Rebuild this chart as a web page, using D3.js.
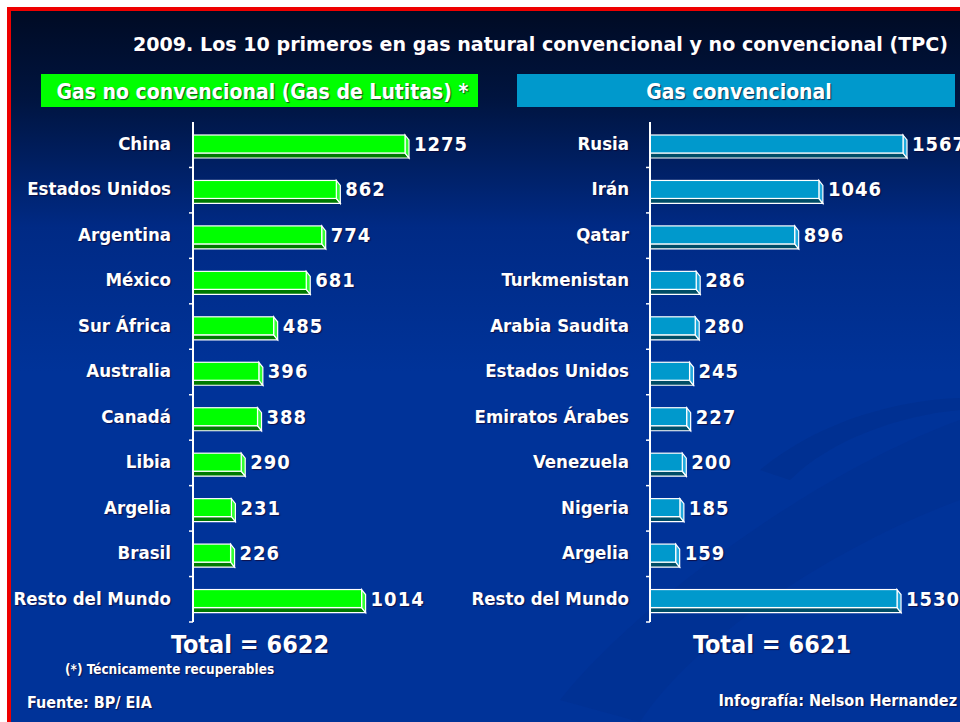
<!DOCTYPE html>
<html>
<head>
<meta charset="utf-8">
<script src="https://cdn.jsdelivr.net/npm/d3@7"></script>
<style>
  body { margin: 0; background: #fff; }
  svg text { font-family: "DejaVu Sans Condensed", "DejaVu Sans", sans-serif; font-weight: bold; fill: #fff;
    text-shadow: 1px 1px 1px rgba(20,0,40,0.7); }
</style>
</head>
<body>
<div id="chart"></div>
<script>
// data (TPC)
const shaleCountries = ["China", "Estados Unidos", "Argentina", "México", "Sur África", "Australia",
	"Canadá", "Libia", "Argelia", "Brasil", "Resto del Mundo"];
const shaleValues = [1275, 862, 774, 681, 485, 396, 388, 290, 231, 226, 1014];
const convCountries = ["Rusia", "Irán", "Qatar", "Turkmenistan", "Arabia Saudita", "Estados Unidos",
	"Emiratos Árabes", "Venezuela", "Nigeria", "Argelia", "Resto del Mundo"];
const convValues = [1567, 1046, 896, 286, 280, 245, 227, 200, 185, 159, 1530];
const totals = [6622, 6621];

const title = "2009. Los 10 primeros en gas natural convencional y no convencional (TPC)";
const headers = ["Gas no convencional (Gas de Lutitas) *", "Gas convencional"];

const W = 960, H = 722;
const svg = d3.select("#chart").append("svg")
	.attr("width", W).attr("height", H);

// background
const defs = svg.append("defs");
const grad = defs.append("linearGradient").attr("id", "bg")
	.attr("x1", 0).attr("y1", 0).attr("x2", 0).attr("y2", 1);
grad.append("stop").attr("offset", "0%").attr("stop-color", "#000b24");
grad.append("stop").attr("offset", "12%").attr("stop-color", "#00143f");
grad.append("stop").attr("offset", "30%").attr("stop-color", "#002a85");
grad.append("stop").attr("offset", "50%").attr("stop-color", "#003399");
grad.append("stop").attr("offset", "100%").attr("stop-color", "#003399");

svg.append("rect").attr("x", 7).attr("y", 7).attr("width", W).attr("height", H)
	.attr("fill", "#ee0000");
svg.append("rect").attr("x", 11).attr("y", 11).attr("width", W).attr("height", H)
	.attr("fill", "url(#bg)");

// faint swooshes in the lower right
svg.append("path")
	.attr("d", "M560,700 C640,600 820,470 960,420 L960,500 C850,540 700,630 640,722 Z")
	.attr("fill", "#002e8e").attr("opacity", 0.45);
svg.append("path")
	.attr("d", "M760,470 C820,420 900,400 960,398 L960,410 C900,415 830,440 790,480 Z")
	.attr("fill", "#002c88").attr("opacity", 0.4);

// title
svg.append("text")
	.attr("x", 133).attr("y", 51)
	.attr("font-size", 20)
	.attr("textLength", 815).attr("lengthAdjust", "spacingAndGlyphs")
	.text(title);

const panels = [
	{x: 41, w: 437, fill: "#00ff00", text: headers[0], axisX: 193, labelX: 171, maxW: 212 * 1600 / 1275,
		countries: shaleCountries, values: shaleValues, face: "#00ff00", bottom: "#007a00", side: "#33ff33", total: totals[0], totalX: 250},
	{x: 517, w: 438, fill: "#0099cc", text: headers[1], axisX: 650, labelX: 629, maxW: 253 * 1600 / 1567,
		countries: convCountries, values: convValues, face: "#0099cc", bottom: "#004d66", side: "#22aadd", total: totals[1], totalX: 772}
];

panels.forEach(p => {
	// header box
	svg.append("rect").attr("x", p.x).attr("y", 74).attr("width", p.w).attr("height", 33)
		.attr("fill", p.fill);
	svg.append("text")
		.attr("x", p.x + p.w / 2 + 3).attr("y", 99)
		.attr("text-anchor", "middle")
		.attr("font-size", 21)
		.text(p.text);

	const x = d3.scaleLinear().domain([0, 1600]).range([p.axisX, p.axisX + p.maxW]);
	const y = d3.scaleBand().domain(p.countries).range([122, 622]);
	const data = p.countries.map((c, i) => ({name: c, value: p.values[i]}));

	const faceH = 18, depth = 5, dx = 4;
	const g = svg.append("g");

	// bottom face
	g.selectAll(".bot").data(data).enter().append("path")
		.attr("d", d => {
			const y0 = y(d.name) + 13 + faceH, x0 = x(0), x1 = x(d.value);
			return `M${x0},${y0} L${x1},${y0} L${x1 + dx},${y0 + depth} L${x0},${y0 + depth} Z`;
		})
		.attr("fill", p.bottom).attr("stroke", "#fff").attr("stroke-width", 1.2);
	// right side face
	g.selectAll(".side").data(data).enter().append("path")
		.attr("d", d => {
			const y0 = y(d.name) + 13, x1 = x(d.value);
			return `M${x1},${y0} L${x1 + dx},${y0 + depth} L${x1 + dx},${y0 + faceH + depth} L${x1},${y0 + faceH} Z`;
		})
		.attr("fill", p.side).attr("stroke", "#fff").attr("stroke-width", 1.2);
	// front face
	g.selectAll(".face").data(data).enter().append("rect")
		.attr("x", x(0))
		.attr("y", d => y(d.name) + 13)
		.attr("width", d => x(d.value) - x(0))
		.attr("height", faceH)
		.attr("fill", p.face).attr("stroke", "#fff").attr("stroke-width", 1.2);

	// value labels
	g.selectAll(".val").data(data).enter().append("text")
		.attr("x", d => x(d.value) + dx + 5)
		.attr("y", d => y(d.name) + 13 + faceH / 2 + 7)
		.attr("font-size", 20)
		.attr("letter-spacing", 1)
		.text(d => d.value);

	// category labels
	g.selectAll(".cat").data(data).enter().append("text")
		.attr("x", p.labelX)
		.attr("y", d => y(d.name) + 13 + faceH / 2 + 6)
		.attr("text-anchor", "end")
		.attr("font-size", 18.5)
		.text(d => d.name);

	// axis with ticks at band edges
	const edges = p.countries.map(c => y(c)).concat([y.range()[1]]);
	g.append("line").attr("x1", x(0)).attr("x2", x(0))
		.attr("y1", y.range()[0]).attr("y2", y.range()[1])
		.attr("stroke", "#fff").attr("stroke-width", 2);
	g.selectAll(".tick").data(edges.slice(1)).enter().append("line")
		.attr("x1", x(0) - 4).attr("x2", x(0))
		.attr("y1", d => d).attr("y2", d => d)
		.attr("stroke", "#fff").attr("stroke-width", 1.5);

	svg.append("text")
		.attr("x", p.totalX).attr("y", 653)
		.attr("text-anchor", "middle")
		.attr("font-size", 25)
		.text("Total = " + p.total);
});

svg.append("text").attr("x", 65).attr("y", 674).attr("font-size", 13.5)
	.text("(*) Técnicamente recuperables");
svg.append("text").attr("x", 27).attr("y", 708).attr("font-size", 16)
	.text("Fuente: BP/ EIA");
svg.append("text").attr("x", 957).attr("y", 706).attr("font-size", 16)
	.attr("text-anchor", "end")
	.text("Infografía: Nelson Hernandez");
</script>
</body>
</html>
